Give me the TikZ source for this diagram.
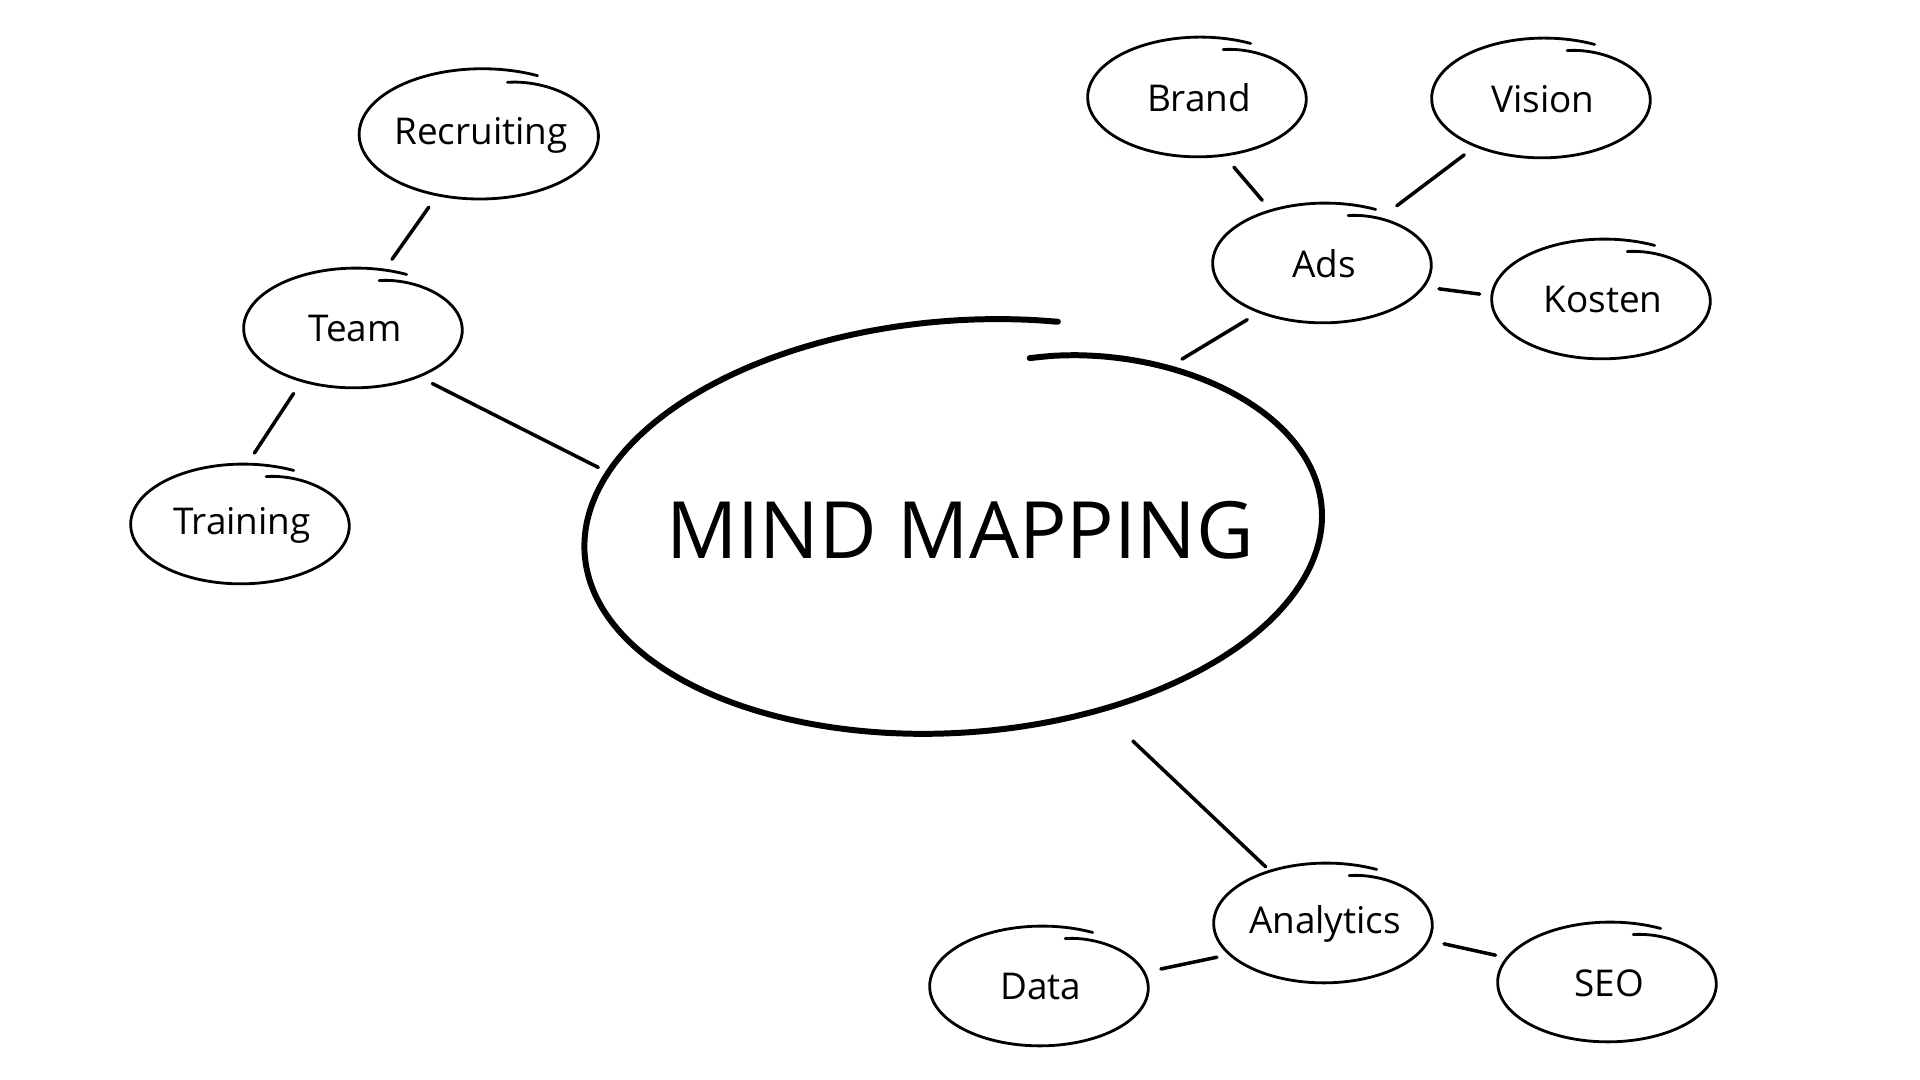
\documentclass[tikz,border=0pt]{standalone}
\usepackage{fontspec}
\setmainfont{Open Sans}
\usetikzlibrary{shapes.geometric}

\tikzset{
  idea/.style={ellipse, inner sep=0pt, minimum width=2.12cm, minimum height=1.14cm,
    font=\fontsize{10.5}{12}\selectfont},
  link/.style={line width=1pt, line cap=round, shorten >=0.17cm, shorten <=0.17cm},
}

% hand drawn ring round a node: node, half width, half height, line width, tilt, end angle
\newcommand{\sketchring}[6]{%
  \draw[line width=#4, line cap=round, shift={(#1.center)}, rotate=#5]
    plot[smooth, samples=90, domain=75:#6]
    ({#2*(1+0.0002*(75-(\x))-0.12*exp(-(75-(\x))/20))*cos(\x)},
     {#3*(1+0.0002*(75-(\x))-0.12*exp(-(75-(\x))/20))*sin(\x)});
}

\begin{document}
\begin{tikzpicture}
\useasboundingbox (0,0) rectangle (19.2,10.8);

\node[ellipse, inner sep=0pt, minimum width=7.2cm, minimum height=3.95cm,
  font=\fontsize{22.5}{26}\selectfont] (main) at (9.60,5.50) {\makebox[0pt]{MIND MAPPING}};

\node[idea, minimum width=2.32cm, minimum height=1.24cm] (rec) at (4.81,9.45) {\makebox[0pt]{Recruiting}};
\node[idea] (team) at (3.55,7.51) {\makebox[0pt]{Team}};
\node[idea] (train) at (2.42,5.55) {\makebox[0pt]{Training}};
\node[idea] (brand) at (11.99,9.82) {\makebox[0pt]{Brand}};
\node[idea] (vision) at (15.43,9.81) {\makebox[0pt]{Vision}};
\node[idea] (ads) at (13.24,8.16) {\makebox[0pt]{Ads}};
\node[idea] (kosten) at (16.03,7.80) {\makebox[0pt]{Kosten}};
\node[idea] (ana) at (13.25,1.56) {\makebox[0pt]{Analytics}};
\node[idea] (data) at (10.41,0.93) {\makebox[0pt]{Data}};
\node[idea] (seo) at (16.09,0.97) {\makebox[0pt]{SEO}};

\sketchring{main}{3.58}{1.96}{1.7pt}{4}{-287}
\sketchring{rec}{1.16}{0.62}{0.8pt}{0}{-297}
\foreach \n in {team,train,brand,vision,ads,kosten,ana,data,seo}
  \sketchring{\n}{1.06}{0.57}{0.8pt}{0}{-297};

\draw[link] (rec.234) -- (team.64);
\draw[link] (team.224) -- (train.87);
\draw[link] (team.-37) -- (main.171);
\draw[link] (brand.-67) -- (ads.135);
\draw[link] (vision.-145) -- (ads.39);
\draw[link] (ads.-13) -- (kosten.178);
\draw[link] (ads.-143) -- (main.38);
\draw[link, shorten <=0.42cm, shorten >=0.1cm] (main.-52) -- (ana.136);
\draw[link] (ana.-162) -- (data.8);
\draw[link] (ana.-9) -- (seo.166);
\end{tikzpicture}
\end{document}
